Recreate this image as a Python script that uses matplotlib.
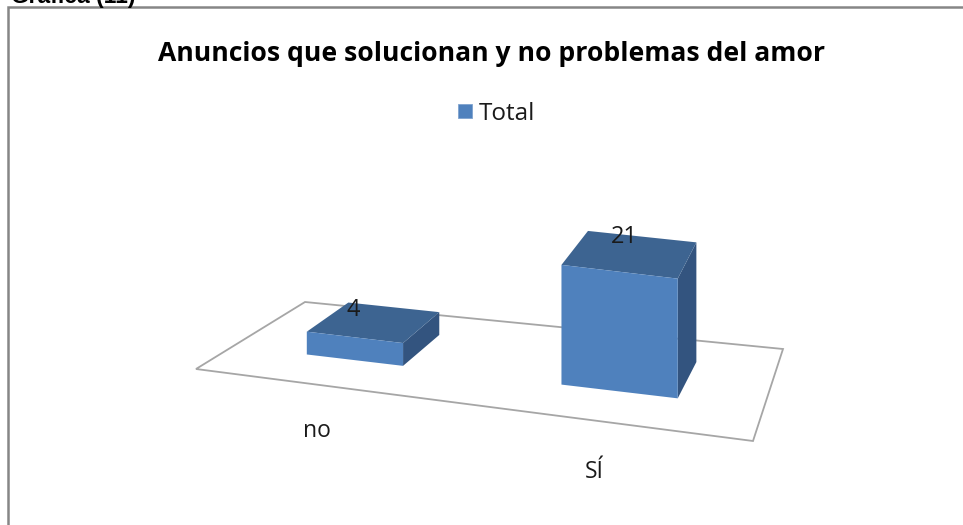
import matplotlib
matplotlib.use('Agg')
import matplotlib.pyplot as plt
from matplotlib.patches import Polygon, Rectangle
import numpy as np

# datos de la grafica
categorias = ['no', 'SÍ']
valores = [4, 21]
serie = 'Total'
titulo = 'Anuncios que solucionan y no problemas del amor'

# colores del estilo 3D
COLOR_FRENTE = '#4F81BD'
COLOR_TECHO = '#3D6491'
COLOR_LADO = '#33547F'
COLOR_PISO = '#A6A6A6'
COLOR_MARCO = '#868686'
COLOR_TEXTO = '#1A1A1A'
FUENTE = 'Open Sans'

# esquinas del piso en pixeles: frente izq, frente der, fondo der, fondo izq
PISO = [(196, 369), (753, 441), (783, 349), (305, 302)]
CENTROS = [0.262, 0.762]
ANCHO = 0.2
FONDO_BARRA = (0.31, 0.73)
PX_POR_UNIDAD = 5.7
# donde van las etiquetas
U_CATEGORIA = [0.347, 0.80]
V_CATEGORIA = -0.42
DX_VALOR = [-40, -17]
DY_VALOR = [3, 0]


def homografia(esquinas):
    # pasa del cuadrado unitario (u, v) a los pixeles del piso
    origen = [(0, 0), (1, 0), (1, 1), (0, 1)]
    A, b = [], []
    for (u, v), (x, y) in zip(origen, esquinas):
        A.append([u, v, 1, 0, 0, 0, -u * x, -v * x])
        A.append([0, 0, 0, u, v, 1, -u * y, -v * y])
        b += [x, y]
    return np.append(np.linalg.solve(np.array(A, float), np.array(b, float)), 1).reshape(3, 3)


H = homografia(PISO)


def proyectar(u, v, valor=0):
    x, y, w = H @ np.array([u, v, 1.0])
    return x / w, y / w - valor * PX_POR_UNIDAD


fig = plt.figure(figsize=(9.63, 5.25), dpi=100)
ax = fig.add_axes([0, 0, 1, 1])
ax.set_xlim(0, 963)
ax.set_ylim(525, 0)
ax.axis('off')

# marco del grafico (abajo queda cortado)
ax.plot([8, 8, 963], [525, 7, 7], color=COLOR_MARCO, lw=1.8, solid_joinstyle='miter')

# texto cortado de arriba
ax.text(11, 3.5, 'Gráfica (11)', fontsize=16.5, fontweight='bold', family='Liberation Sans',
        color='black', va='baseline')

ax.text(491, 54, titulo, fontsize=19.1, fontweight='bold', family=FUENTE, ha='center', va='center')

# leyenda
ax.add_patch(Rectangle((458, 104), 14, 14, fc=COLOR_FRENTE, ec='#7FA3CF', lw=0.6))
ax.text(479, 113.5, serie, fontsize=17.5, family=FUENTE, color=COLOR_TEXTO, va='center')

# piso
ax.add_patch(Polygon(PISO, closed=True, fc='white', ec=COLOR_PISO, lw=1.3, zorder=1))

# barras
for i, (cat, val, c) in enumerate(zip(categorias, valores, CENTROS)):
    u0, u1 = c - ANCHO / 2, c + ANCHO / 2
    v0, v1 = FONDO_BARRA
    frente = [proyectar(u0, v0), proyectar(u1, v0), proyectar(u1, v0, val), proyectar(u0, v0, val)]
    lado = [proyectar(u1, v0), proyectar(u1, v1), proyectar(u1, v1, val), proyectar(u1, v0, val)]
    techo = [proyectar(u0, v0, val), proyectar(u1, v0, val), proyectar(u1, v1, val), proyectar(u0, v1, val)]
    ax.add_patch(Polygon(lado, fc=COLOR_LADO, ec='none', zorder=2))
    ax.add_patch(Polygon(techo, fc=COLOR_TECHO, ec='none', zorder=2))
    ax.add_patch(Polygon(frente, fc=COLOR_FRENTE, ec='none', zorder=3))

    # etiqueta del valor, sobre el borde de atras
    xe, ye = proyectar(c, v1, val)
    ax.text(xe + DX_VALOR[i], ye + DY_VALOR[i], str(val), fontsize=17, family=FUENTE, color=COLOR_TEXTO,
            ha='center', va='center', zorder=4)

    # etiqueta de la categoria, delante del piso
    xc, yc = proyectar(U_CATEGORIA[i], V_CATEGORIA)
    ax.text(xc, yc, cat, fontsize=16.5, family=FUENTE, color=COLOR_TEXTO, ha='center', va='center', zorder=4)

fig.savefig('out.png', dpi=100)
